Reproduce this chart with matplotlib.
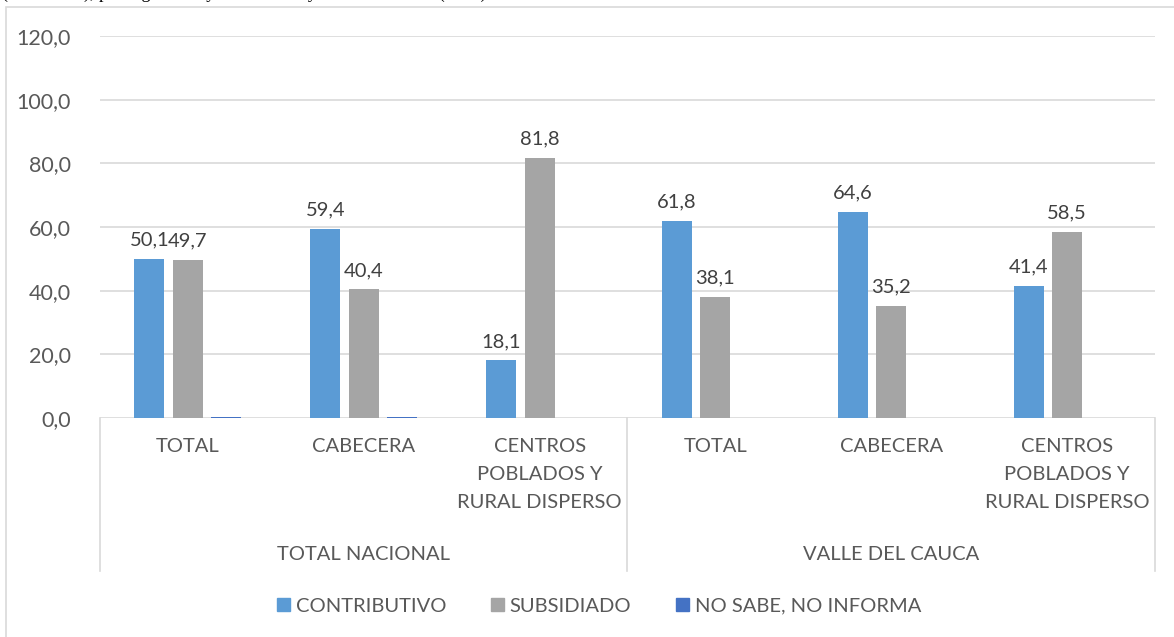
import matplotlib
matplotlib.use("Agg")
import matplotlib.pyplot as plt
import numpy as np
from matplotlib.patches import Rectangle
from matplotlib.lines import Line2D

categories = ["TOTAL", "CABECERA", "CENTROS\nPOBLADOS Y\nRURAL DISPERSO",
              "TOTAL", "CABECERA", "CENTROS\nPOBLADOS Y\nRURAL DISPERSO"]
groups = ["TOTAL NACIONAL", "VALLE DEL CAUCA"]
series_names = ["CONTRIBUTIVO", "SUBSIDIADO", "NO SABE, NO INFORMA"]
contributivo = [50.1, 59.4, 18.1, 61.8, 64.6, 41.4]
subsidiado = [49.7, 40.4, 81.8, 38.1, 35.2, 58.5]
no_sabe = [0.2, 0.2, 0.1, 0.0, 0.0, 0.0]
yticks = [0, 20, 40, 60, 80, 100, 120]

colors = ["#5B9BD5", "#A5A5A5", "#4472C4"]
txt = "#595959"
grid_c = "#D9D9D9"
font = "Lato"
fs = 14.5

W, H = 1174, 637
fig = plt.figure(figsize=(W / 100, H / 100), dpi=100)
plt.rcParams['font.family'] = [font, 'DejaVu Sans']

# outer chart border
fig.patches.append(Rectangle((6 / W, -0.01), 1.2, 1 - 7 / H + 0.01, transform=fig.transFigure,
                             fill=False, edgecolor="#D9D9D9", linewidth=1.2))
# clipped caption at top (cut off in the source)
fig.text(2 / W, 1 + 2.5 / H, "(ECV 2018), por regímenes y área urbana y Valle del Cauca (2018)",
         family="Liberation Serif", fontsize=13, va="baseline", ha="left", color="black")

ax = fig.add_axes([100 / W, 1 - 418 / H, (1155 - 100) / W, (418 - 36) / H])
x = np.arange(len(categories))
bw = 0.17
off = 0.219
data = [contributivo, subsidiado, no_sabe]
for i, (vals, c) in enumerate(zip(data, colors)):
    bars = ax.bar(x + (i - 1) * off, vals, width=bw, color=c, zorder=3)
    if i < 2:
        for b, v in zip(bars, vals):
            ax.text(b.get_x() + b.get_width() / 2, v + 3.3, f"{v:.1f}".replace(".", ","),
                    ha="center", va="bottom", fontsize=fs, color="#404040")

ax.set_xlim(-0.5, len(categories) - 0.5)
ax.set_ylim(0, 120)
ax.set_yticks(yticks)
ax.set_yticklabels([f"{v:.1f}".replace(".", ",") for v in yticks], fontsize=15.5, color=txt)
ax.tick_params(axis="y", length=0, pad=21)
ax.set_xticks([])
for s in ax.spines.values():
    s.set_visible(False)
ax.grid(axis="y", color=grid_c, linewidth=1.2, zorder=0)
ax.set_axisbelow(True)

trans = ax.get_xaxis_transform()
ax_h = 418 - 36
def yfrac(py):
    return (418 - py) / ax_h

for xi, lab in zip(x, categories):
    ax.text(xi, yfrac(438), lab, transform=trans, ha="center", va="top",
            fontsize=fs, color=txt, linespacing=1.8)
for gi, g in enumerate(groups):
    ax.text(gi * 3 + 1, yfrac(555), g, transform=trans, ha="center", va="center",
            fontsize=fs, color=txt)
for xs in [-0.5, 2.5, 5.5]:
    ax.add_line(Line2D([xs, xs], [0, yfrac(571)], transform=trans, color=grid_c,
                       linewidth=1.2, clip_on=False))

handles = [Rectangle((0, 0), 1, 1, color=c) for c in colors]
fig.legend(handles, series_names, loc="center", bbox_to_anchor=(599 / W, 1 - 606 / H),
           ncol=3, frameon=False, fontsize=fs, handlelength=0.65, handleheight=0.65,
           handletextpad=0.3, columnspacing=2.2, labelcolor=txt)

fig.savefig("out.png", dpi=100)
